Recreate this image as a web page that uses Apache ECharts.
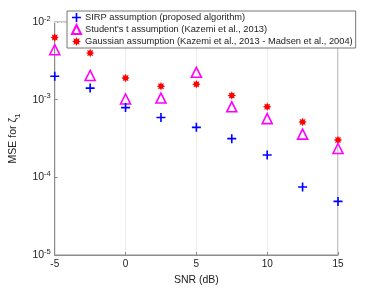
<!DOCTYPE html>
<html><head><meta charset="utf-8">
<script src="https://cdn.jsdelivr.net/npm/echarts@6/dist/echarts.min.js"></script>
<style>html,body{margin:0;padding:0;background:#fff}#c{width:374px;height:291px}</style>
</head><body><div id="c"></div>
<script>
const snr = [-5, -2.5, 0, 2.5, 5, 7.5, 10, 12.5, 15];
const sirp = [2.0e-3, 1.41e-3, 7.9e-4, 5.9e-4, 4.4e-4, 3.15e-4, 1.94e-4, 7.5e-5, 4.9e-5];
const student = [4.4e-3, 2.05e-3, 1.02e-3, 1.05e-3, 2.25e-3, 8.1e-4, 5.7e-4, 3.6e-4, 2.35e-4];
const gaussian = [6.3e-3, 3.98e-3, 1.9e-3, 1.49e-3, 1.58e-3, 1.13e-3, 8.1e-4, 5.15e-4, 3.03e-4];
const seriesNames = ['SIRP assumption (proposed algorithm)', "Student's t assumption (Kazemi et al., 2013)", 'Gaussian assumption (Kazemi et al., 2013 - Madsen et al., 2004)'];
const xTicks = [-5, 0, 5, 10, 15];
const yDecades = [-5, -4, -3, -2];

const plusPath = 'path://M4.1,0H5.9V4.1H10V5.9H5.9V10H4.1V5.9H0V4.1H4.1Z';
const starPath = 'path://M5,0L6.1,2.4L8.5,1.5L7.6,3.9L10,5L7.6,6.1L8.5,8.5L6.1,7.6L5,10L3.9,7.6L1.5,8.5L2.4,6.1L0,5L2.4,3.9L1.5,1.5L3.9,2.4Z';

const minor = [];
for (let d = -5; d < -2; d++) for (let m = 2; m <= 9; m++) minor.push({yAxis: m * Math.pow(10, d)});
const major = yDecades.slice(1, -1).map(d => ({yAxis: Math.pow(10, d)}));

const pair = arr => snr.map((x, i) => [x, arr[i]]);
const font = 'Liberation Sans, Arial, sans-serif';
const axisCol = '#8c8c8c';
const chart = echarts.init(document.getElementById('c'));
chart.setOption({
  animation: false,
  textStyle: {fontFamily: font},
  grid: {left: 49, right: 36, top: 22, bottom: 32, show: true, borderColor: axisCol, borderWidth: 1},
  legend: {
    orient: 'vertical', left: 67, top: 11, itemGap: 2, padding: [2, 3, 2, 4],
    backgroundColor: '#fff', borderColor: '#777', borderWidth: 1,
    itemWidth: 9, itemHeight: 9,
    textStyle: {fontSize: 9.3, color: '#222', fontFamily: font, padding: [0, 0, 0, -1]},
    data: seriesNames
  },
  xAxis: {
    type: 'value', min: -5, max: 15, interval: 5,
    name: 'SNR (dB)', nameLocation: 'middle', nameGap: 20,
    nameTextStyle: {fontSize: 10.5, color: '#222'},
    axisLine: {onZero: false, lineStyle: {color: axisCol}},
    axisTick: {inside: true, length: 3, lineStyle: {color: axisCol}},
    axisLabel: {fontSize: 10, color: '#222', margin: 4},
    splitLine: {show: true, lineStyle: {color: '#ececec', width: 1}}
  },
  yAxis: {
    type: 'log', logBase: 10, min: 1e-5, max: 1e-2,
    name: 'MSE for ζ{sub|1}', nameLocation: 'middle', nameGap: 32, nameRotate: 90,
    nameTextStyle: {fontSize: 10.5, color: '#222', padding: [0, 0, 0, 0], rich: {sub: {fontSize: 8, padding: [8, 0, 0, 0]}}},
    axisLine: {show: true, onZero: false, lineStyle: {color: axisCol}},
    axisTick: {inside: true, length: 3, lineStyle: {color: axisCol}},
    axisLabel: {
      margin: 4, color: '#222', fontSize: 10,
      formatter: v => '{b|10}{s|' + Math.round(Math.log10(v)) + '}',
      rich: {b: {fontSize: 10.5, color: '#222'}, s: {fontSize: 7.5, color: '#222', padding: [0, 0, 7, 0]}}
    },
    splitLine: {show: false}
  },
  series: [
    {name: seriesNames[0], type: 'scatter', data: pair(sirp), symbol: plusPath, symbolSize: 9,
      itemStyle: {color: '#0000ff', opacity: 1}, z: 5,
      markLine: {silent: true, symbol: 'none', label: {show: false}, z: 1,
        lineStyle: {color: '#e6e6e6', type: [2, 2], width: 1, opacity: 1},
        data: minor},
    },
    {name: seriesNames[1], type: 'scatter', data: pair(student), symbol: 'triangle', symbolSize: 10,
      itemStyle: {color: 'rgba(255,255,255,0)', borderColor: '#ff00ff', borderWidth: 1.6, opacity: 1}, z: 4,
      markLine: {silent: true, symbol: 'none', label: {show: false}, z: 1,
        lineStyle: {color: '#e6e6e6', type: 'solid', width: 1, opacity: 1}, data: major}
    },
    {name: seriesNames[2], type: 'scatter', data: pair(gaussian), symbol: starPath, symbolSize: 8.5,
      itemStyle: {color: '#ff0000', opacity: 1}, z: 3}
  ]
});
</script></body></html>
